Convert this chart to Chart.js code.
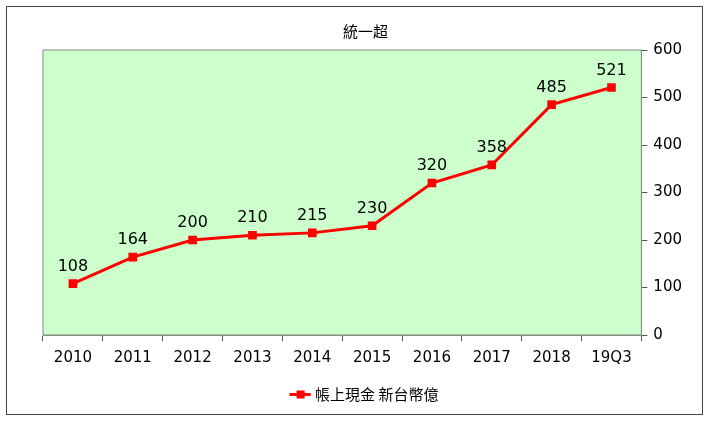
<!DOCTYPE html>
<html><head><meta charset="utf-8">
<script src="https://cdn.jsdelivr.net/npm/chart.js@4"></script>
<style>
html,body{margin:0;padding:0;background:#fff;}
#wrap{position:absolute;left:6px;top:6px;width:695px;height:407px;border:1px solid #444;}
</style></head><body>
<div id="wrap"><canvas id="myChart"></canvas></div>
<script>
const labels = ['2010','2011','2012','2013','2014','2015','2016','2017','2018','19Q3'];
const cash = [108,164,200,210,215,230,320,358,485,521];
const yTicks = [0,100,200,300,400,500,600];

const plotBg = {
    id: 'plotBg',
    beforeDraw(chart) {
        const a = chart.chartArea, c = chart.ctx;
        c.save();
        c.fillStyle = '#ccffcc';
        c.fillRect(a.left, a.top, a.right - a.left, a.bottom - a.top);
        c.strokeStyle = '#888';
        c.strokeRect(a.left, a.top, a.right - a.left, a.bottom - a.top);
        c.restore();
    },
    afterDatasetsDraw(chart) {
        const c = chart.ctx, meta = chart.getDatasetMeta(0);
        c.save();
        c.font = '16px "DejaVu Sans"';
        c.fillStyle = '#000';
        c.textAlign = 'center';
        meta.data.forEach((p, i) => c.fillText(cash[i], p.x, p.y - 17));
        c.restore();
    },
    afterDraw(chart) {
        // square marker on the legend line
        const hb = chart.legend.legendHitBoxes[0];
        if (!hb) return;
        const c = chart.ctx;
        const x = hb.left + 8, y = hb.top + hb.height / 2;
        c.save();
        c.fillStyle = '#ff0000';
        c.fillRect(x - 4, y - 4, 8, 8);
        c.restore();
    }
};

new Chart(document.getElementById('myChart'), {
    type: 'line',
    data: {
        labels: labels,
        datasets: [{
            label: '帳上現金 新台幣億',
            data: cash,
            borderColor: '#ff0000',
            backgroundColor: '#ff0000',
            borderWidth: 3,
            pointStyle: 'rect',
            pointRadius: 4,
            tension: 0
        }]
    },
    options: {
        responsive: true,
        maintainAspectRatio: false,
        animation: false,
        layout: {padding: {left: 36, right: 14, top: 3, bottom: 2}},
        scales: {
            x: {
                offset: true,
                grid: {display: true, drawOnChartArea: false, offset: true, color: '#555', tickLength: 6},
                border: {color: '#888'},
                ticks: {color: '#000', font: {size: 15, family: 'DejaVu Sans'}, padding: 8}
            },
            y: {
                position: 'right',
                min: 0, max: 600,
                afterBuildTicks: ax => { ax.ticks = yTicks.map(v => ({value: v})); },
                grid: {drawOnChartArea: false, color: '#555', tickLength: 6},
                border: {color: '#888'},
                ticks: {color: '#000', font: {size: 15, family: 'DejaVu Sans'}, padding: 6}
            }
        },
        plugins: {
            title: {display: true, text: '統一超', color: '#000', font: {size: 15, weight: 'normal', family: '"Noto Sans CJK TC"'}, padding: {top: 12, bottom: 10}},
            legend: {
                position: 'bottom',
                labels: {color: '#000', font: {size: 15, family: '"Noto Sans CJK TC"'}, usePointStyle: true, pointStyle: 'line', padding: 12,
                    generateLabels: ch => [{text: '帳上現金 新台幣億', strokeStyle: '#ff0000', fillStyle: '#ff0000', lineWidth: 3, pointStyle: 'line', fontColor: '#000'}]}
            },
            tooltip: {enabled: false}
        }
    },
    plugins: [plotBg]
});
</script>
</body></html>
